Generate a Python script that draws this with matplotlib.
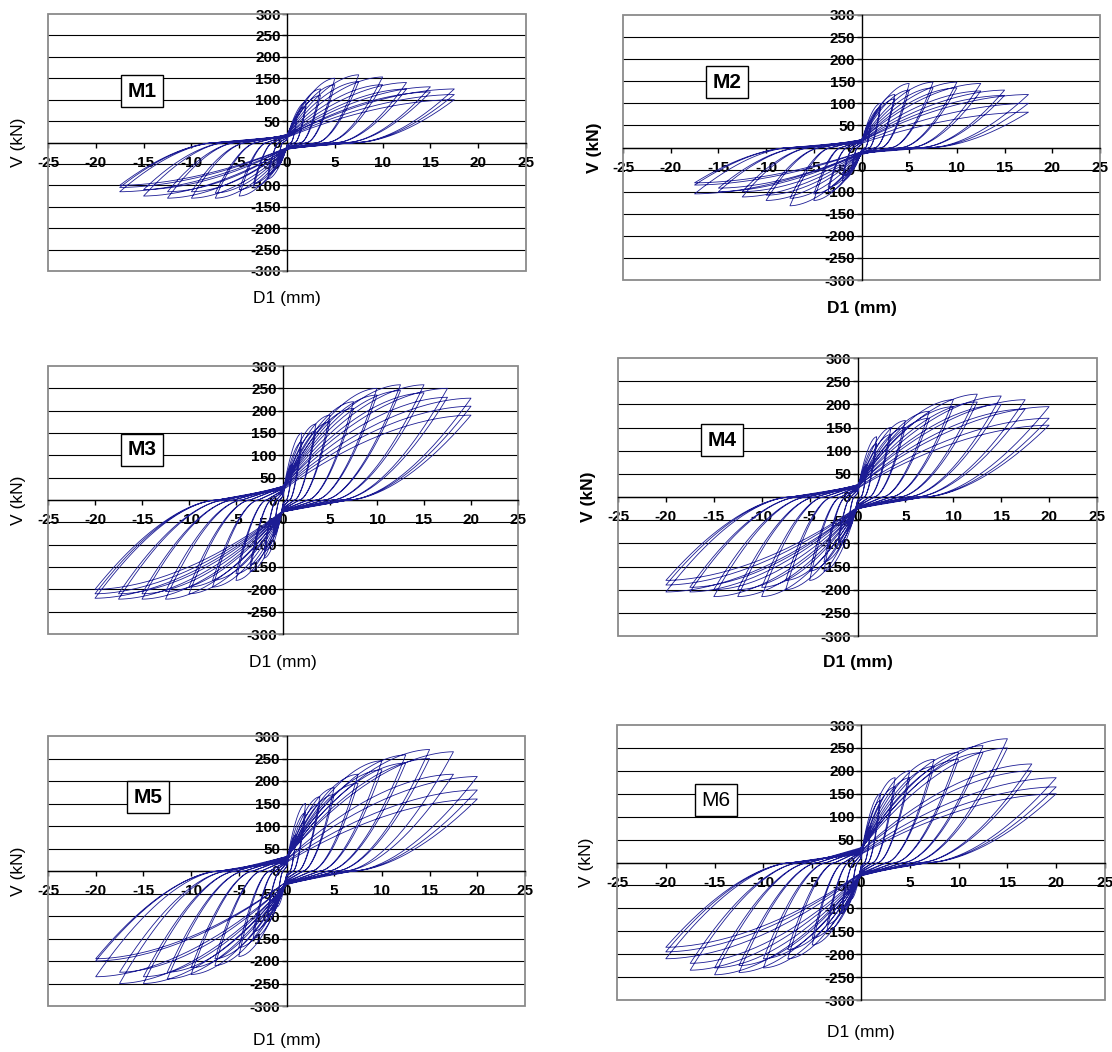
import numpy as np
import matplotlib
matplotlib.use("Agg")
import matplotlib.pyplot as plt
from matplotlib.patches import Rectangle

plt.rcParams['font.family'] = ['Liberation Sans', 'DejaVu Sans']
plt.rcParams['axes.unicode_minus'] = False

# --- cycle peaks per specimen: imposed displacement (mm) and peak shear (kN) ---
m1_d = [1, 1, 2, 2, 3.5, 3.5, 5, 5, 7.5, 7.5, 10, 10, 12.5, 12.5, 15, 15, 17.5, 17.5, 17.5]
m1_vp = [55, 50, 95, 85, 125, 110, 150, 135, 158, 142, 153, 135, 140, 125, 130, 118, 125, 112, 100]
m1_vn = [-55, -50, -85, -75, -105, -95, -125, -110, -130, -118, -130, -115, -130, -115, -125, -110, -115, -105, -100]

m2_d = [1, 1, 2, 2, 3.5, 3.5, 5, 5, 7.5, 7.5, 10, 10, 12.5, 12.5, 15, 15, 17.5, 17.5, 17.5]
m2_vp = [60, 55, 100, 90, 120, 110, 145, 130, 148, 135, 148, 135, 145, 128, 130, 118, 120, 100, 80]
m2_vn = [-50, -45, -75, -65, -100, -90, -120, -105, -132, -115, -120, -108, -112, -100, -100, -92, -105, -85, -80]

m3_d = [1, 1, 2, 2, 3.5, 3.5, 5, 5, 7.5, 7.5, 10, 10, 12.5, 12.5, 15, 15, 17.5, 17.5, 20, 20, 20]
m3_vp = [80, 70, 150, 130, 170, 155, 190, 175, 220, 205, 250, 235, 258, 245, 258, 240, 250, 230, 228, 210, 190]
m3_vn = [-80, -70, -130, -115, -160, -145, -180, -165, -195, -180, -210, -195, -222, -205, -222, -210, -222, -210, -220, -210, -200]

m4_d = [1, 1, 2, 2, 3.5, 3.5, 5, 5, 7.5, 7.5, 10, 10, 12.5, 12.5, 15, 15, 17.5, 17.5, 20, 20, 20]
m4_vp = [70, 60, 130, 115, 150, 135, 165, 150, 185, 170, 210, 195, 222, 205, 218, 200, 210, 190, 195, 170, 155]
m4_vn = [-70, -60, -100, -90, -160, -140, -180, -160, -200, -180, -215, -195, -215, -200, -215, -200, -205, -195, -205, -190, -180]

m5_d = [1, 1, 2, 2, 3.5, 3.5, 5, 5, 7.5, 7.5, 10, 10, 12.5, 12.5, 15, 15, 17.5, 17.5, 20, 20, 20]
m5_vp = [80, 70, 150, 130, 165, 150, 185, 170, 215, 195, 245, 225, 258, 240, 270, 250, 265, 215, 210, 180, 160]
m5_vn = [-80, -70, -100, -90, -150, -135, -190, -170, -210, -195, -230, -215, -240, -225, -250, -235, -250, -225, -235, -200, -195]

m6_d = [1, 1, 2, 2, 3.5, 3.5, 5, 5, 7.5, 7.5, 10, 10, 12.5, 12.5, 15, 15, 17.5, 17.5, 20, 20, 20]
m6_vp = [80, 70, 150, 135, 185, 165, 200, 185, 225, 210, 240, 225, 255, 240, 270, 250, 215, 200, 185, 165, 150]
m6_vn = [-80, -70, -110, -100, -150, -135, -180, -165, -210, -190, -230, -210, -240, -225, -245, -230, -235, -220, -210, -195, -185]

names = ["M1", "M2", "M3", "M4", "M5", "M6"]
x_ticks = [-25, -20, -15, -10, -5, 0, 5, 10, 15, 20, 25]
y_ticks = [-300, -250, -200, -150, -100, -50, 0, 50, 100, 150, 200, 250, 300]

# layout in pixels (left, right, top, bottom) of each plot area
W, H = 1112, 1052
boxes = [(48, 526, 14, 271), (623, 1100, 15, 280),
         (48, 518, 366, 634), (618, 1097, 358, 636),
         (48, 525, 736, 1006), (617, 1105, 725, 1000)]
vlabel_x = [18, 595, 18, 588, 18, 587]
dlabel_y = [298, 308, 662, 663, 1040, 1032]
name_pos = [(0.197, 0.70), (0.218, 0.747), (0.20, 0.687),
            (0.217, 0.705), (0.21, 0.774), (0.203, 0.727)]
name_bold = [True, True, True, True, True, False]
label_bold = [False, True, False, True, False, False]
residual = [0.42, 0.42, 0.35, 0.35, 0.35, 0.35]


def hysteresis(d, vp, vn, rf):
    """Trace a pinched loop for every cycle, one after another."""
    t = np.linspace(0, 1, 40)
    xs, ys = [], []
    c = 0.12
    for dp, fp, fn in zip(d, vp, vn):
        dn = -dp
        xr, xrn = rf * dp, rf * dn
        xs += [dp * t, dp - (dp - xr) * t, xr * (1 - t),
               dn * t, dn - (dn - xrn) * t, xrn * (1 - t)]
        ys += [c * fp + (fp - c * fp) * (1 - (1 - t) ** 1.8),
               fp * (1 - t) ** 1.7,
               c * fn * t,
               c * fn + (fn - c * fn) * (1 - (1 - t) ** 1.8),
               fn * (1 - t) ** 1.7,
               c * fp * t]
    return np.concatenate(xs), np.concatenate(ys)


series = [(m1_d, m1_vp, m1_vn), (m2_d, m2_vp, m2_vn), (m3_d, m3_vp, m3_vn),
          (m4_d, m4_vp, m4_vn), (m5_d, m5_vp, m5_vn), (m6_d, m6_vp, m6_vn)]

fig = plt.figure(figsize=(W / 100, H / 100), dpi=100)

for i, (name, (d, vp, vn)) in enumerate(zip(names, series)):
    l, r, t, b = boxes[i]
    ax = fig.add_axes([l / W, 1 - b / H, (r - l) / W, (b - t) / H])
    ax.set_xlim(-25, 25)
    ax.set_ylim(-300, 300)

    # horizontal gridlines and grey plot-area frame
    for v in y_ticks[1:-1]:
        ax.axhline(v, color='black', lw=0.8, zorder=1)
    ax.add_patch(Rectangle((0, 0), 1, 1, transform=ax.transAxes, fill=False,
                           ec='#8a8a8a', lw=1.3, zorder=2, clip_on=False))

    # axes crossing at the origin
    for s in ['top', 'right']:
        ax.spines[s].set_visible(False)
    ax.spines['left'].set_position(('data', 0))
    ax.spines['bottom'].set_position(('data', 0))
    for s in ['left', 'bottom']:
        ax.spines[s].set_linewidth(1.0)
        ax.spines[s].set_zorder(3)
    ax.set_xticks(x_ticks)
    ax.set_yticks(y_ticks)
    ax.tick_params(axis='x', direction='out', length=3.5, width=1, pad=6,
                   labelsize=11)
    ax.tick_params(axis='y', direction='out', length=3.5, width=1, pad=1,
                   labelsize=11)
    for lab in ax.get_xticklabels() + ax.get_yticklabels():
        lab.set_fontweight('bold')

    x, y = hysteresis(d, vp, vn, residual[i])
    ax.plot(x, y, color='#1c1c94', lw=0.6, zorder=4)

    ax.text(name_pos[i][0], name_pos[i][1], name, transform=ax.transAxes,
            ha='center', va='center', fontsize=15,
            fontweight='bold' if name_bold[i] else 'normal', zorder=6,
            bbox=dict(boxstyle='square,pad=0.3', fc='white', ec='black', lw=1))

    w = 'bold' if label_bold[i] else 'normal'
    fig.text(vlabel_x[i] / W, 1 - (t + b) / 2 / H, "V (kN)", rotation=90,
             ha='center', va='center', fontsize=12.5, fontweight=w)
    fig.text((l + r) / 2 / W, 1 - dlabel_y[i] / H, "D1 (mm)",
             ha='center', va='center', fontsize=12.5, fontweight=w)

fig.savefig("out.png", dpi=100)
